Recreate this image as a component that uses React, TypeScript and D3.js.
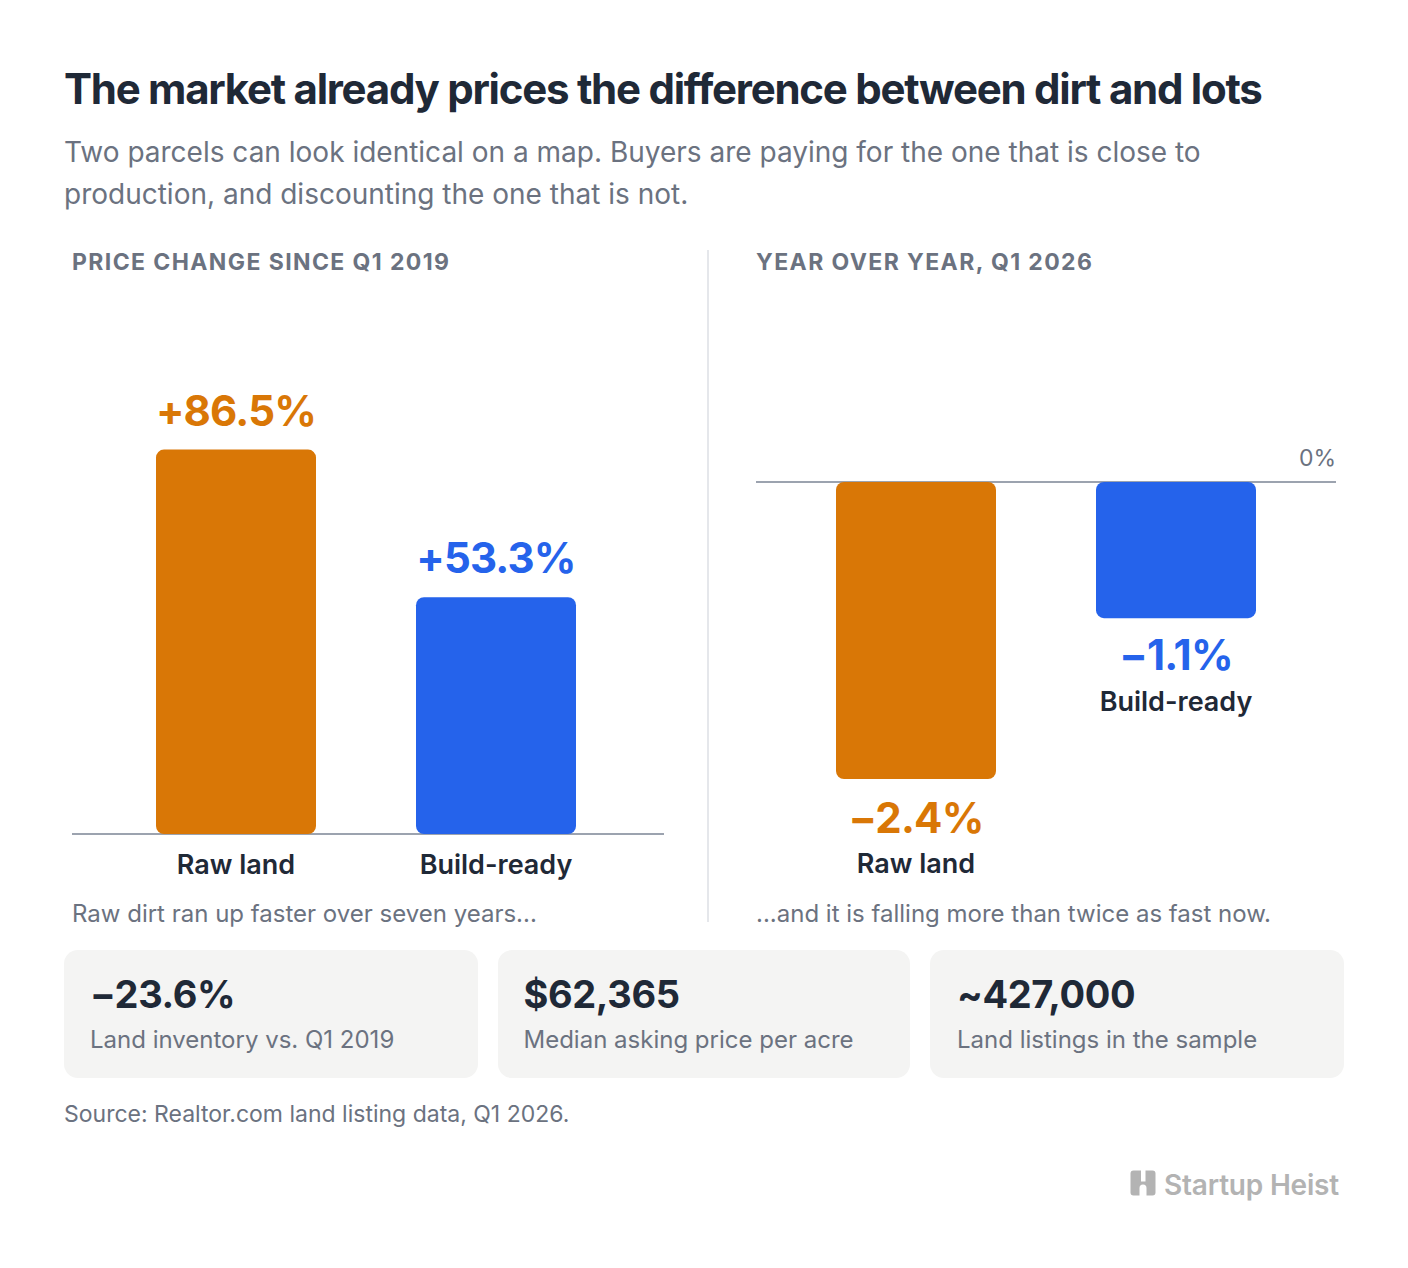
import React from "react";
import * as d3 from "d3";

const categories = ["Raw land", "Build-ready"];
const sinceValues = [86.5, 53.3];
const sinceLabels = ["+86.5%", "+53.3%"];
const yoyValues = [-2.4, -1.1];
const yoyLabels = ["−2.4%", "−1.1%"];
const colors = ["#d97706", "#2563eb"];
const cardValues = ["−23.6%", "$62,365", "~427,000"];
const cardLabels = ["Land inventory vs. Q1 2019", "Median asking price per acre", "Land listings in the sample"];
const cardX: [number, number][] = [[64, 478], [498, 910], [930, 1344]];
const cardTextX = [90, 523.5, 957];

const INK = "#1f2937";
const GRAY = "#6b7280";
const FONT = "Inter, sans-serif";

const padInner = 100 / 260;
const xLeft = d3.scaleBand<string>().domain(categories).range([156, 576]).paddingInner(padInner);
const xRight = d3.scaleBand<string>().domain(categories).range([836, 1256]).paddingInner(padInner);
const yLeft = d3.scaleLinear().domain([0, 86.5]).range([834, 449.6]);
const yRight = d3.scaleLinear().domain([0, -2.4]).range([482, 779]);

export default function App() {
  return (
    <svg width={1408} height={1268} viewBox="0 0 1408 1268" style={{ position: "absolute", left: 0, top: 0, background: "#fff" }} fontFamily={FONT}>
      <rect width={1408} height={1268} fill="#fff" />
      <text x={64} y={104} fontSize={42} fontWeight={700} letterSpacing={-1.26} fill={INK}>The market already prices the difference between dirt and lots</text>
      <text x={64} y={162} fontSize={28} fill={GRAY}>Two parcels can look identical on a map. Buyers are paying for the one that is close to</text>
      <text x={64} y={204} fontSize={28} fill={GRAY}>production, and discounting the one that is not.</text>

      <text x={72} y={270} fontSize={23} fontWeight={700} letterSpacing={1.4} fill={GRAY}>PRICE CHANGE SINCE Q1 2019</text>
      <text x={756} y={270} fontSize={23} fontWeight={700} letterSpacing={1.4} fill={GRAY}>YEAR OVER YEAR, Q1 2026</text>
      <line x1={708} x2={708} y1={250} y2={922} stroke="#e5e7eb" strokeWidth={2} />

      <line x1={72} x2={664} y1={yLeft(0)} y2={yLeft(0)} stroke="#9ca3af" strokeWidth={2} />
      {categories.map((c, i) => {
        const x = xLeft(c)!, w = xLeft.bandwidth(), cx = x + w / 2, top = yLeft(sinceValues[i]);
        return (
          <g key={c}>
            <rect x={x} y={top} width={w} height={yLeft(0) - top} rx={8} fill={colors[i]} />
            <text x={cx} y={top - 24} textAnchor="middle" fontSize={42} fontWeight={700} letterSpacing={-0.84} fill={colors[i]}>{sinceLabels[i]}</text>
            <text x={cx} y={874} textAnchor="middle" fontSize={27} fontWeight={600} fill={INK}>{c}</text>
          </g>
        );
      })}

      <line x1={756} x2={1336} y1={yRight(0)} y2={yRight(0)} stroke="#9ca3af" strokeWidth={2} />
      {categories.map((c, i) => {
        const x = xRight(c)!, w = xRight.bandwidth(), cx = x + w / 2, bot = yRight(yoyValues[i]);
        const dy = i === 1 ? -1.5 : 0;
        return (
          <g key={c}>
            <rect x={x} y={yRight(0)} width={w} height={bot - yRight(0)} rx={8} fill={colors[i]} />
            <text x={cx} y={bot + 53.5 + dy} textAnchor="middle" fontSize={42} fontWeight={700} letterSpacing={-0.84} fill={colors[i]}>{yoyLabels[i]}</text>
            <text x={cx} y={bot + 94 + dy} textAnchor="middle" fontSize={27} fontWeight={600} fill={INK}>{c}</text>
          </g>
        );
      })}
      <text x={1336} y={466} textAnchor="end" fontSize={23} fill={GRAY}>0%</text>

      <text x={72} y={922} fontSize={24} fill={GRAY}>Raw dirt ran up faster over seven years...</text>
      <text x={756} y={922} fontSize={24} fill={GRAY}>...and it is falling more than twice as fast now.</text>

      {cardValues.map((v, i) => {
        const [a, b] = cardX[i];
        return (
          <g key={v}>
            <rect x={a} y={950} width={b - a} height={128} rx={14} fill="#f4f4f3" />
            <text x={cardTextX[i]} y={1008} fontSize={38} fontWeight={700} letterSpacing={-0.38} fill={INK}>{v}</text>
            <text x={cardTextX[i]} y={1048} fontSize={24} fill={GRAY}>{cardLabels[i]}</text>
          </g>
        );
      })}

      <text x={64} y={1122} fontSize={23} fill={GRAY}>Source: Realtor.com land listing data, Q1 2026.</text>

      <path fillRule="evenodd" fill="#b3b3b3" d="M1133.5 1170.5h7.5v11h4.5v-11h7a3 3 0 0 1 3 3v19a3 3 0 0 1-3 3h-6v-7.500a3.500 3.500 0 0 0-7 0v7.500h-6a3 3 0 0 1-3-3v-19a3 3 0 0 1 3-3z" />
      <text x={1164} y={1195} fontSize={28} fontWeight={600} letterSpacing={-0.2} fill="#b3b3b3">Startup Heist</text>
    </svg>
  );
}
